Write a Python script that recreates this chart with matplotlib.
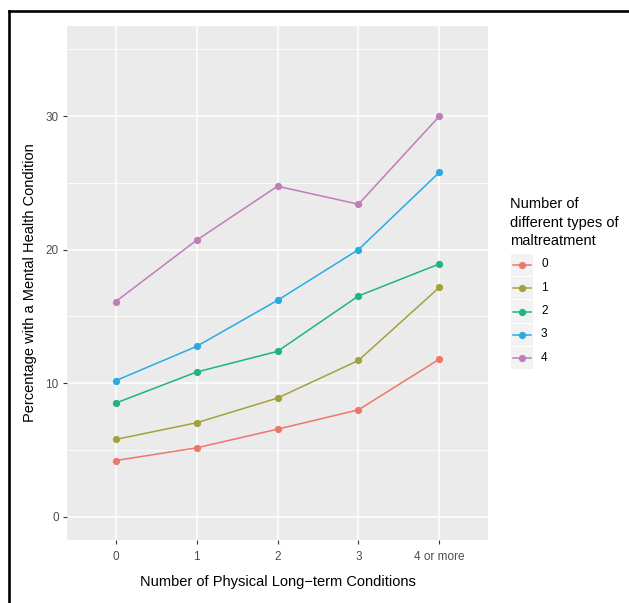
import matplotlib
matplotlib.use("Agg")
import matplotlib.pyplot as plt
from matplotlib.lines import Line2D

plt.rcParams['font.family'] = ['Liberation Sans', 'DejaVu Sans']

categories = ["0", "1", "2", "3", "4 or more"]
groups = ["0", "1", "2", "3", "4"]
s0 = [4.2, 5.15, 6.55, 8.0, 11.8]
s1 = [5.78, 7.03, 8.88, 11.7, 17.18]
s2 = [8.5, 10.83, 12.38, 16.53, 18.93]
s3 = [10.18, 12.75, 16.2, 20.0, 25.8]
s4 = [16.1, 20.7, 24.75, 23.4, 30.0]
series = [s0, s1, s2, s3, s4]
colors = ["#EF766A", "#A3A23A", "#1FB57D", "#29ABE2", "#C17CB9"]
yticks = [0, 10, 20, 30]

W, H = 629, 603
fig = plt.figure(figsize=(W / 100, H / 100), dpi=100)
fig.patch.set_facecolor("white")

# black frame lines (top and left)
fig.add_artist(Line2D([9 / W, 1.0], [1 - 10.5 / H, 1 - 10.5 / H], color="black", lw=1.9, transform=fig.transFigure))
fig.add_artist(Line2D([9 / W, 9 / W], [0, 1 - 10.5 / H], color="black", lw=1.9, transform=fig.transFigure))

left, right, top, bottom = 67, 488, 26, 540
ax = fig.add_axes([left / W, 1 - bottom / H, (right - left) / W, (bottom - top) / H])
ax.set_facecolor("#EBEBEB")
for sp in ax.spines.values():
    sp.set_visible(False)

x = list(range(len(categories)))
ax.set_xlim(-0.6, 4.6)
ax.set_ylim(-1.75, 36.75)

# grid
for yv in [5, 15, 25, 35]:
    ax.axhline(yv, color="white", lw=0.55, zorder=0)
for yv in yticks:
    ax.axhline(yv, color="white", lw=1.1, zorder=0)
for xv in x:
    ax.axvline(xv, color="white", lw=1.1, zorder=0)

for g, s, c in zip(groups, series, colors):
    ax.plot(x, s, color=c, lw=1.1, marker="o", ms=4.2, mec=c, mfc=c, label=g, zorder=3)

ax.set_xticks(x)
ax.set_xticklabels(categories)
ax.set_yticks(yticks)
ax.tick_params(axis="both", colors="#333333", labelcolor="#4D4D4D", labelsize=8.5, length=3, width=0.8)
ax.tick_params(axis="x", pad=5)
ax.tick_params(axis="y", pad=3)

ax.set_xlabel("Number of Physical Long\u2212term Conditions", fontsize=10.5, color="black", labelpad=8.5)
ax.set_ylabel("Percentage with a Mental Health Condition", fontsize=10.5, color="black", labelpad=6)

# legend (manual, ggplot style)
fig.text(510 / W, 1 - 197 / H, "Number of\ndifferent types of\nmaltreatment", fontsize=10.5,
         ha="left", va="top", linespacing=1.42)
key_h = 23.3
key_w = 22.5
centers = [264.5 + i * key_h for i in range(len(groups))]
for g, c, cy in zip(groups, colors, centers):
    kax = fig.add_axes([510.5 / W, 1 - (cy + key_h / 2) / H, key_w / W, (key_h - 1) / H])
    kax.set_facecolor("#F2F2F2")
    kax.set_xlim(0, 1)
    kax.set_ylim(0, 1)
    kax.set_xticks([])
    kax.set_yticks([])
    for sp in kax.spines.values():
        sp.set_visible(False)
    kax.plot([0.1, 0.9], [0.5, 0.5], color=c, lw=1.1)
    kax.plot([0.5], [0.5], marker="o", ms=4.2, color=c)
    fig.text(541 / W, 1 - cy / H, g, fontsize=8.5, ha="left", va="center", color="black")

fig.savefig("out.png", dpi=100)
